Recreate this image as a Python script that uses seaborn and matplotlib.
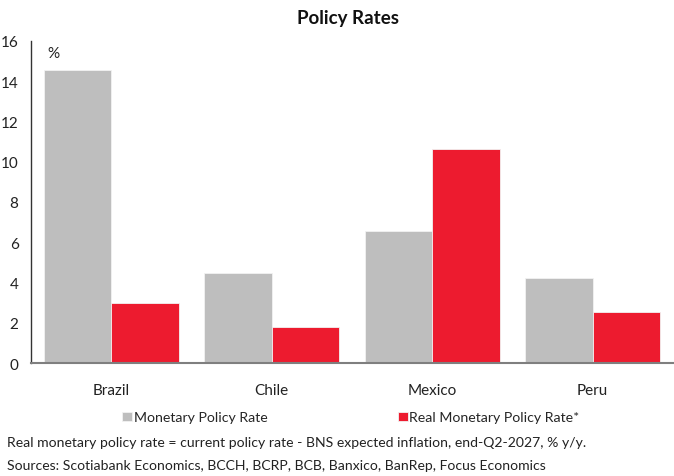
import matplotlib
matplotlib.use("Agg")
import matplotlib.pyplot as plt
import seaborn as sns
import pandas as pd

countries = ["Brazil", "Chile", "Mexico", "Peru"]
policy_rate = [14.55, 4.5, 6.55, 4.25]
real_policy_rate = [3.0, 1.8, 10.65, 2.55]
series_names = ["Monetary Policy Rate", "Real Monetary Policy Rate*"]
y_ticks = [0, 2, 4, 6, 8, 10, 12, 14, 16]

GRAY = "#BEBEBE"
RED = "#ED1B2F"
AXIS = "#7F7F7F"

sns.set_theme(style="white")
plt.rcParams["font.family"] = ["Lato", "DejaVu Sans"]

df = pd.DataFrame({
    "country": countries * 2,
    "series": [series_names[0]] * 4 + [series_names[1]] * 4,
    "value": policy_rate + real_policy_rate,
})

fig = plt.figure(figsize=(6.74, 4.77), dpi=100)
ax = fig.add_axes([0.046, 0.2363, 0.9525, 0.6763])

sns.barplot(data=df, x="country", y="value", hue="series",
            palette=[GRAY, RED], width=0.84, gap=0, saturation=1,
            edgecolor="#F2F2F2", linewidth=0.6, ax=ax)

ax.set_xlim(-0.5, 3.5)
ax.set_ylim(0, 16)
ax.set_yticks(y_ticks)
ax.set_yticklabels([str(t) for t in y_ticks], fontsize=11, color="#222222")
ax.tick_params(axis="y", direction="in", length=3.5, width=1, color="#333333",
               pad=9)
ax.set_xticks([0, 1, 2, 3])
ax.set_xticklabels(countries, fontsize=11, color="#222222")
ax.set_xticks([-0.5, 0.5, 1.5, 2.5, 3.5], minor=True)
ax.tick_params(axis="x", which="major", length=0, pad=14)
ax.tick_params(axis="x", which="minor", direction="out", length=4, width=1,
               color=AXIS)
ax.set_xlabel("")
ax.set_ylabel("")

for side in ["top", "right"]:
    ax.spines[side].set_visible(False)
ax.spines["left"].set_color("#333333")
ax.spines["left"].set_linewidth(1)
ax.spines["bottom"].set_color(AXIS)
ax.spines["bottom"].set_linewidth(1.5)

ax.text(0.025, 0.985, "%", transform=ax.transAxes, fontsize=11,
        va="top", ha="left", color="#222222")

handles, labels = ax.get_legend_handles_labels()
ax.legend(handles, labels, loc="center", bbox_to_anchor=(0.498, -0.168),
          ncol=2, frameon=False, fontsize=10.2, handlelength=0.7,
          handleheight=0.7, handletextpad=0.1, columnspacing=9.2,
          borderaxespad=0)

fig.text(0.516, 0.962, "Policy Rates", ha="center", va="center",
         fontsize=13.5, fontweight="bold", color="#111111")

fig.text(0.010, 0.072,
         "Real monetary policy rate = current policy rate - BNS expected inflation, end-Q2-2027, % y/y.",
         ha="left", va="center", fontsize=10.05, color="#222222")
fig.text(0.010, 0.024,
         "Sources: Scotiabank Economics, BCCH, BCRP, BCB, Banxico, BanRep, Focus Economics",
         ha="left", va="center", fontsize=10.05, color="#222222")

fig.savefig("out.png", dpi=100)
